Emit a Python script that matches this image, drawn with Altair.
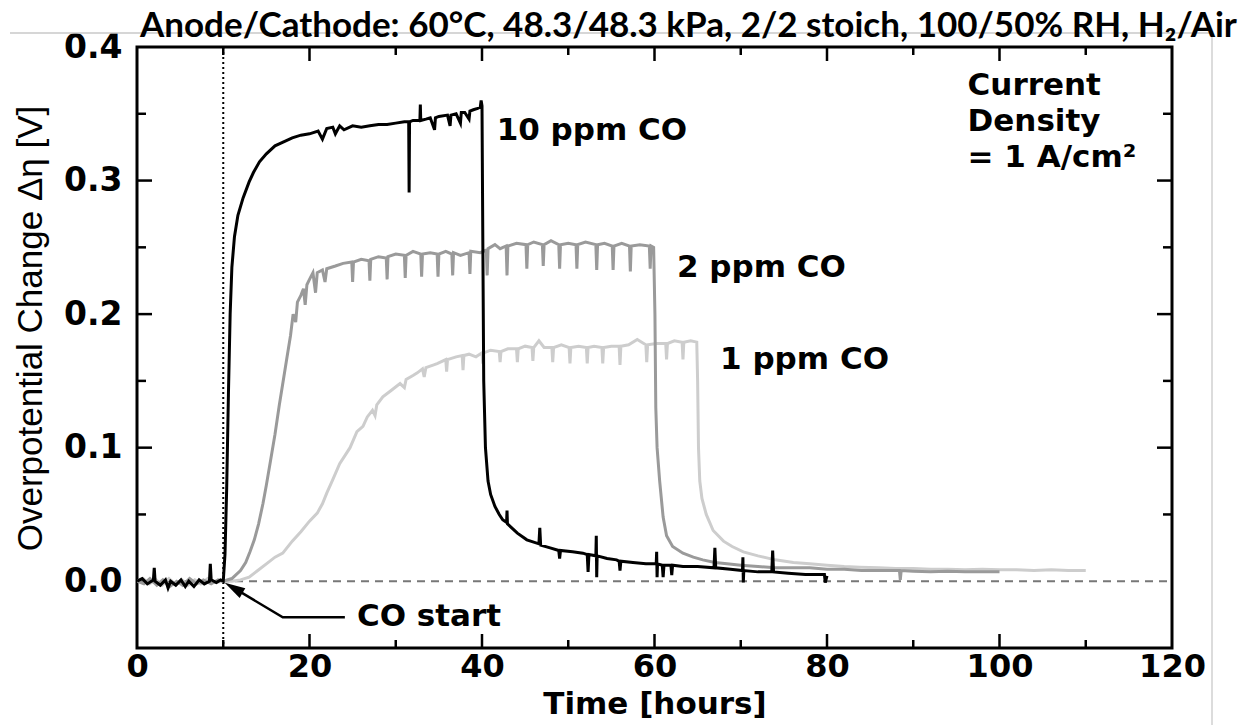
import altair as alt
import pandas as pd

# ---- data ----
SERIES_10PPM = [
    (0, 0.000), (0.6, 0.002), (1.2, -0.002), (1.9, 0.001), (2.0, 0.010), (2.1, 0.000),
    (2.7, -0.003), (3.3, 0.001), (3.6, -0.005), (3.9, 0.000), (4.5, -0.003), (5.1, 0.001),
    (5.6, -0.004), (6.0, 0.000), (6.6, -0.004), (7.2, 0.001), (7.8, -0.002), (8.4, 0.000),
    (8.5, 0.013), (8.6, 0.001), (9.2, -0.001), (9.7, 0.001), (10.0, 0.000), (10.2, 0.020),
    (10.4, 0.070), (10.6, 0.140), (10.8, 0.200), (11.0, 0.235), (11.3, 0.258), (11.7, 0.274),
    (12.3, 0.287), (13.0, 0.299), (13.5, 0.306), (14.2, 0.314), (15.0, 0.320), (16.0, 0.326),
    (17.0, 0.329), (18.0, 0.332), (19.0, 0.334), (20.0, 0.335), (21.0, 0.337), (21.5, 0.331),
    (22.0, 0.339), (22.7, 0.340), (23.0, 0.335), (23.5, 0.341), (24.0, 0.338), (25.0, 0.341),
    (26.0, 0.340), (27.0, 0.341), (28.0, 0.342), (29.0, 0.342), (30.0, 0.343), (31.0, 0.344),
    (31.5, 0.344), (31.55, 0.291), (31.6, 0.344), (32.0, 0.345), (32.8, 0.345), (32.85, 0.357),
    (32.9, 0.345), (33.5, 0.346), (34.0, 0.347), (34.5, 0.338), (34.6, 0.347), (35.0, 0.348),
    (36.0, 0.349), (36.3, 0.341), (36.4, 0.349), (37.0, 0.350), (37.5, 0.343), (37.6, 0.351),
    (38.0, 0.351), (38.5, 0.346), (38.6, 0.352), (39.0, 0.353), (39.5, 0.354), (39.8, 0.355),
    (39.9, 0.360), (40.0, 0.356), (40.1, 0.250), (40.2, 0.150), (40.4, 0.100), (40.7, 0.075),
    (41.0, 0.065), (41.5, 0.056), (42.0, 0.050), (42.4, 0.046), (42.85, 0.044), (42.9, 0.053),
    (42.95, 0.043), (44.1, 0.036), (45.2, 0.031), (46.6, 0.028), (46.7, 0.040), (46.8, 0.027),
    (47.9, 0.025), (48.9, 0.023), (49.0, 0.017), (49.1, 0.023), (50.5, 0.022), (51.7, 0.021),
    (52.2, 0.020), (52.3, 0.007), (52.4, 0.020), (53.2, 0.019), (53.25, 0.034), (53.3, 0.003),
    (53.35, 0.019), (54.5, 0.017), (55.6, 0.016), (55.9, 0.015), (56.0, 0.008), (56.1, 0.015),
    (57.5, 0.014), (59.0, 0.013), (60.2, 0.013), (60.25, 0.022), (60.3, 0.003), (60.35, 0.013),
    (60.9, 0.012), (61.0, 0.003), (61.1, 0.012), (61.9, 0.012), (62.0, 0.0045), (62.1, 0.012),
    (63.3, 0.011), (65.0, 0.011), (66.9, 0.010), (67.0, 0.025), (67.1, 0.010), (68.8, 0.009),
    (70.2, 0.008), (70.25, 0.018), (70.3, -0.001), (70.35, 0.008), (72.0, 0.007), (73.6, 0.007),
    (73.7, 0.023), (73.8, 0.007), (75.5, 0.006), (77.5, 0.005), (79.7, 0.005), (79.8, -0.001),
    (80.0, 0.004),
]

SERIES_2PPM = [
    (0, 0.000), (0.8, -0.002), (1.5, 0.002), (2.3, -0.003), (3.0, 0.001), (3.8, -0.004),
    (4.6, 0.000), (5.3, -0.003), (6.1, 0.002), (6.9, -0.002), (7.7, 0.001), (8.6, -0.002),
    (9.4, 0.001), (10.0, 0.000), (11.0, 0.002), (12.0, 0.008), (12.6, 0.014), (13.1, 0.022),
    (13.6, 0.031), (14.1, 0.043), (14.6, 0.058), (15.0, 0.072), (15.5, 0.091), (16.0, 0.110),
    (16.5, 0.132), (17.0, 0.152), (17.4, 0.168), (17.8, 0.184), (18.1, 0.200), (18.4, 0.194),
    (18.6, 0.209), (19.0, 0.214), (19.3, 0.219), (19.5, 0.207), (19.7, 0.222), (20.0, 0.226),
    (20.4, 0.231), (20.7, 0.216), (20.9, 0.231), (21.5, 0.233), (21.8, 0.224), (22.0, 0.234),
    (23.0, 0.236), (23.9, 0.238), (24.9, 0.239), (25.0, 0.224), (25.1, 0.239), (26.0, 0.241),
    (26.9, 0.240), (27.0, 0.225), (27.1, 0.241), (28.0, 0.243), (28.9, 0.242), (29.0, 0.226),
    (29.1, 0.243), (30.0, 0.245), (31.0, 0.244), (31.1, 0.227), (31.2, 0.244), (32.0, 0.247),
    (32.9, 0.245), (33.0, 0.228), (33.1, 0.245), (34.0, 0.246), (34.8, 0.245), (34.9, 0.228),
    (35.0, 0.245), (35.8, 0.247), (36.5, 0.245), (36.6, 0.229), (36.7, 0.246), (37.5, 0.244),
    (38.5, 0.246), (38.6, 0.230), (38.7, 0.247), (39.8, 0.246), (40.5, 0.248), (40.6, 0.229),
    (40.7, 0.249), (41.5, 0.252), (42.1, 0.249), (42.8, 0.251), (42.9, 0.229), (43.0, 0.251),
    (44.0, 0.253), (45.1, 0.252), (45.2, 0.234), (45.3, 0.252), (46.0, 0.254), (47.0, 0.252),
    (47.1, 0.236), (47.2, 0.252), (48.0, 0.255), (48.9, 0.252), (49.0, 0.234), (49.1, 0.252),
    (50.0, 0.253), (50.9, 0.252), (51.0, 0.234), (51.1, 0.252), (52.0, 0.254), (53.2, 0.252),
    (53.3, 0.233), (53.4, 0.252), (54.2, 0.253), (55.1, 0.251), (55.2, 0.233), (55.3, 0.251),
    (56.2, 0.253), (57.1, 0.251), (57.2, 0.232), (57.3, 0.251), (58.3, 0.252), (59.4, 0.251),
    (59.5, 0.234), (59.6, 0.251), (59.9, 0.250), (60.05, 0.200), (60.15, 0.130), (60.3, 0.100),
    (60.6, 0.075), (61.0, 0.048), (61.4, 0.034), (62.1, 0.026), (63.3, 0.021), (64.5, 0.018),
    (65.6, 0.016), (67.0, 0.014), (68.4, 0.013), (70.0, 0.012), (72.0, 0.011), (74.0, 0.010),
    (76.1, 0.010), (78.0, 0.010), (80.0, 0.009), (82.0, 0.009), (84.0, 0.008), (86.0, 0.008),
    (88.4, 0.008), (88.5, 0.001), (88.6, 0.008), (90.0, 0.0075), (92.0, 0.007), (94.0, 0.0075),
    (96.0, 0.007), (98.0, 0.007), (100.0, 0.007),
]

SERIES_1PPM = [
    (0, 0.000), (0.7, 0.002), (1.4, -0.002), (2.2, 0.001), (2.9, -0.003), (3.7, 0.002),
    (4.4, -0.002), (5.2, 0.001), (5.9, -0.003), (6.7, 0.001), (7.4, -0.002), (8.2, 0.002),
    (9.0, -0.001), (10.0, 0.000), (11.0, 0.000), (12.0, 0.001), (13.0, 0.003), (14.0, 0.008),
    (15.0, 0.013), (16.0, 0.018), (16.9, 0.021), (18.0, 0.030), (19.0, 0.037), (20.0, 0.045),
    (20.9, 0.051), (21.5, 0.058), (22.0, 0.066), (22.7, 0.076), (23.5, 0.088), (24.2, 0.095),
    (24.7, 0.100), (25.5, 0.112), (26.2, 0.116), (26.7, 0.123), (27.3, 0.128), (27.6, 0.124),
    (27.8, 0.132), (28.5, 0.138), (29.5, 0.143), (30.5, 0.148), (31.0, 0.145), (31.2, 0.151),
    (32.0, 0.154), (32.5, 0.156), (33.1, 0.159), (33.3, 0.153), (33.5, 0.160), (34.4, 0.162),
    (34.8, 0.163), (35.8, 0.166), (35.9, 0.157), (36.0, 0.166), (37.0, 0.168), (37.7, 0.169),
    (37.8, 0.158), (37.9, 0.169), (38.5, 0.170), (39.3, 0.168), (40.0, 0.171), (40.1, 0.163),
    (40.2, 0.171), (41.0, 0.173), (42.0, 0.172), (42.1, 0.164), (42.2, 0.172), (43.0, 0.174),
    (44.0, 0.174), (44.1, 0.164), (44.2, 0.174), (45.0, 0.176), (45.8, 0.175), (45.9, 0.165),
    (46.0, 0.175), (46.6, 0.180), (47.2, 0.175), (48.1, 0.175), (48.2, 0.164), (48.3, 0.175),
    (49.2, 0.177), (50.1, 0.175), (50.2, 0.163), (50.3, 0.175), (51.2, 0.176), (52.1, 0.175),
    (52.2, 0.163), (52.3, 0.175), (53.0, 0.176), (53.9, 0.175), (54.0, 0.163), (54.1, 0.175),
    (55.0, 0.176), (55.9, 0.176), (56.0, 0.162), (56.1, 0.176), (57.0, 0.177), (58.0, 0.181),
    (59.0, 0.177), (59.1, 0.164), (59.2, 0.177), (60.2, 0.178), (61.3, 0.178), (61.4, 0.166),
    (61.5, 0.178), (62.3, 0.180), (63.2, 0.179), (63.3, 0.166), (63.4, 0.179), (64.2, 0.180),
    (64.9, 0.179), (65.0, 0.150), (65.1, 0.100), (65.25, 0.075), (65.5, 0.062), (66.0, 0.050),
    (66.8, 0.038), (68.0, 0.030), (69.0, 0.026), (70.3, 0.022), (72.0, 0.019), (74.0, 0.016),
    (76.1, 0.014), (78.0, 0.013), (80.0, 0.012), (82.0, 0.011), (83.8, 0.0105), (86.0, 0.010),
    (88.0, 0.0095), (90.0, 0.0095), (92.0, 0.009), (94.0, 0.009), (96.0, 0.0085), (98.0, 0.009),
    (100.0, 0.0085), (102.0, 0.0085), (104.0, 0.008), (106.0, 0.0085), (108.0, 0.008),
    (110.0, 0.008),
]

X_MAJOR = [0, 20, 40, 60, 80, 100, 120]
X_MINOR = [10, 30, 50, 70, 90, 110]
Y_MAJOR = [0.0, 0.1, 0.2, 0.3, 0.4]
Y_MINOR = [-0.05, 0.05, 0.15, 0.25, 0.35]

CO_START_T = 10
ARROW_T = [11.2, 16.9, 24.1]
ARROW_V = [-0.005, -0.027, -0.027]

LABEL_T = [41.7, 62.6, 67.6, 25.5, 96.3, 96.3, 96.3]
LABEL_V = [0.337, 0.2345, 0.1655, -0.027, 0.371, 0.344, 0.317]
LABEL_TEXT = ["10 ppm CO", "2 ppm CO", "1 ppm CO", "CO start", "Current", "Density", "= 1 A/cm²"]

TITLE = "Anode/Cathode: 60°C, 48.3/48.3 kPa, 2/2 stoich, 100/50% RH, H₂/Air"

# ---- geometry ----
W, H = 1035, 601
xs = alt.Scale(domain=[0, 120], nice=False, zero=False)
ys = alt.Scale(domain=[-0.05, 0.4], nice=False, zero=False)

df10 = pd.DataFrame(SERIES_10PPM, columns=["t", "v"]).reset_index()
df2 = pd.DataFrame(SERIES_2PPM, columns=["t", "v"]).reset_index()
df1 = pd.DataFrame(SERIES_1PPM, columns=["t", "v"]).reset_index()

tickfont = "DejaVu Sans"

base_x = alt.X("t:Q", scale=xs, axis=alt.Axis(
    values=X_MAJOR, format="d", domain=False, ticks=False, grid=False,
    labelFont=tickfont, labelFontWeight="bold", labelFontSize=32, labelColor="black",
    labelPadding=3, labelFlush=False,
    title="Time [hours]", titleFont=tickfont, titleFontWeight="bold", titleFontSize=31,
    titleColor="black", titleBaseline="alphabetic", titleY=65))
base_y = alt.Y("v:Q", scale=ys, axis=alt.Axis(
    values=Y_MAJOR, format=".1f", domain=False, ticks=False, grid=False,
    labelFont=tickfont, labelFontWeight="bold", labelFontSize=33, labelColor="black",
    labelPadding=15, labelFlush=False,
    title="Overpotential Change Δη [V]", titleFont="Liberation Sans",
    titleFontWeight="normal", titleFontSize=35, titleColor="black",
    titleAngle=270, titleBaseline="middle", titleAlign="center", titleX=-107, titleY=281))


def line(df, color, width):
    return alt.Chart(df).mark_line(color=color, strokeWidth=width, clip=True).encode(
        x=alt.X("t:Q", scale=xs), y=alt.Y("v:Q", scale=ys), order="index:O")


axes_layer = alt.Chart(df10).mark_line(opacity=0).encode(x=base_x, y=base_y)

zero_line = alt.Chart(pd.DataFrame({"v": [0.0]})).mark_rule(
    color="#777777", strokeWidth=2, strokeDash=[8, 6]).encode(
    y=alt.Y("v:Q", scale=ys), x=alt.value(0), x2=alt.value(W))

co_line = alt.Chart(pd.DataFrame({"t": [CO_START_T]})).mark_rule(
    color="black", strokeWidth=2, strokeDash=[2, 3]).encode(
    x=alt.X("t:Q", scale=xs), y=alt.value(0), y2=alt.value(H))

# faint slide border seen in the reference (top edge and right edge)
border_top = alt.Chart(pd.DataFrame({"k": [0]})).mark_rule(
    color="#c8c8c8", strokeWidth=1.5).encode(
    x=alt.value(-127), x2=alt.value(1075), y=alt.value(-14))
border_right = alt.Chart(pd.DataFrame({"k": [0]})).mark_rule(
    color="#d0d0d0", strokeWidth=1.5).encode(
    x=alt.value(1075), y=alt.value(-14), y2=alt.value(680))

xmaj = pd.DataFrame({"t": X_MAJOR[1:-1]})
xmin = pd.DataFrame({"t": X_MINOR})
ymaj = pd.DataFrame({"v": Y_MAJOR[1:-1]})
ymin = pd.DataFrame({"v": Y_MINOR[1:]})


def xticks(df, length):
    b = alt.Chart(df).mark_rule(color="black", strokeWidth=2.5).encode(
        x=alt.X("t:Q", scale=xs), y=alt.value(H), y2=alt.value(H - length))
    t = alt.Chart(df).mark_rule(color="black", strokeWidth=2.5).encode(
        x=alt.X("t:Q", scale=xs), y=alt.value(0), y2=alt.value(length))
    return b + t


def yticks(df, length):
    l = alt.Chart(df).mark_rule(color="black", strokeWidth=2.5).encode(
        y=alt.Y("v:Q", scale=ys), x=alt.value(0), x2=alt.value(length))
    r = alt.Chart(df).mark_rule(color="black", strokeWidth=2.5).encode(
        y=alt.Y("v:Q", scale=ys), x=alt.value(W), x2=alt.value(W - length))
    return l + r


arrow_df = pd.DataFrame({"t": ARROW_T, "v": ARROW_V}).reset_index()
arrow_line = alt.Chart(arrow_df).mark_line(color="black", strokeWidth=2.5).encode(
    x=alt.X("t:Q", scale=xs), y=alt.Y("v:Q", scale=ys), order="index:O")
arrow_head = alt.Chart(arrow_df.iloc[[0]]).mark_point(
    shape="M0,-1L0.55,1L-0.55,1Z", filled=True, color="black", opacity=1,
    size=420, angle=300).encode(
    x=alt.X("t:Q", scale=xs), y=alt.Y("v:Q", scale=ys))

labels = alt.Chart(pd.DataFrame({"t": LABEL_T, "v": LABEL_V, "txt": LABEL_TEXT})).mark_text(
    font=tickfont, fontWeight="bold", fontSize=31, color="black",
    align="left", baseline="middle").encode(
    x=alt.X("t:Q", scale=xs), y=alt.Y("v:Q", scale=ys), text="txt:N")

title = alt.Chart(pd.DataFrame({"txt": [TITLE]})).mark_text(
    font="Lato", fontWeight="bold", fontSize=35, color="black",
    align="left", baseline="alphabetic").encode(
    x=alt.value(3), y=alt.value(-10), text="txt:N")

chart = alt.layer(
    axes_layer, border_top, border_right, zero_line, co_line,
    line(df1, "#cdcdcd", 3), line(df2, "#9a9a9a", 3), line(df10, "black", 3),
    xticks(xmaj, 14), xticks(xmin, 8), yticks(ymaj, 15), yticks(ymin, 9),
    arrow_line, arrow_head, labels, title,
).properties(
    width=W, height=H,
    autosize=alt.AutoSizeParams(type="none"),
    padding={"left": 137, "top": 47, "right": 68, "bottom": 77},
    background="white",
).configure_view(stroke="black", strokeWidth=3)

chart.save("out.html", embed_options={"renderer": "svg", "actions": False})
